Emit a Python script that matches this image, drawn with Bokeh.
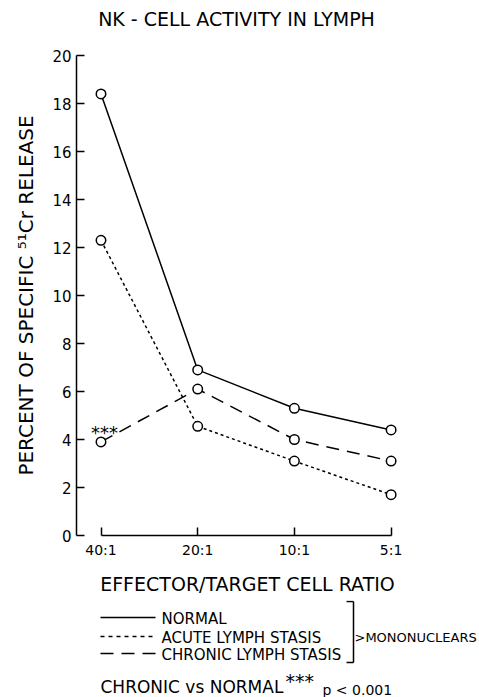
from math import pi
from bokeh.plotting import figure
from bokeh.layouts import column
from bokeh.models import Range1d, FixedTicker
from bokeh.core.properties import value
from bokeh.embed import file_html
from bokeh.resources import INLINE

# ---- data ----
ratios = ["40:1", "20:1", "10:1", "5:1"]
normal = [18.4, 6.9, 5.3, 4.4]
acute = [12.3, 4.55, 3.1, 1.7]
chronic = [3.9, 6.1, 4.0, 3.1]
y_ticks = [0, 2, 4, 6, 8, 10, 12, 14, 16, 18, 20]

FONT = "DejaVu Sans"
W = 479
H_HEAD, H_MAIN, H_FOOT = 48, 552, 97

# page geometry of the plotting frame
FL, FR, FT, FB = 76, 418, 55, 535
PX_PER_X = 96.7
X0 = (FL - 100.5) / PX_PER_X
X1 = (FR - 100.5) / PX_PER_X


def blank(h):
    f = figure(width=W, height=h, output_backend="svg", toolbar_location=None,
               x_range=Range1d(0, W), y_range=Range1d(h, 0),
               min_border=0, min_border_left=0, min_border_right=0,
               min_border_top=0, min_border_bottom=0, frame_align=False)
    f.axis.visible = False
    f.grid.visible = False
    f.outline_line_color = None
    f.background_fill_color = "white"
    f.border_fill_color = "white"
    return f


def txt(f, s, x, y, size, align="left", angle=0.0):
    f.text(x=[x], y=[y], text=[s], text_font=value(FONT),
           text_font_size=f"{size}px", text_align=align,
           text_baseline="middle", angle=angle, text_color="black")


def seg(f, x0, y0, x1, y1, dash="solid"):
    f.segment(x0=[x0], y0=[y0], x1=[x1], y1=[y1], line_color="black",
              line_width=1.5, line_dash=dash)


# ---- header ----
head = blank(H_HEAD)
txt(head, "NK - CELL ACTIVITY IN LYMPH", 236, 18, 19, "center")

# ---- main chart ----
p = figure(width=W, height=H_MAIN, output_backend="svg", toolbar_location=None,
           x_range=Range1d(X0, X1), y_range=Range1d(0, 20),
           min_border_left=FL, min_border_right=W - FR,
           min_border_top=FT - H_HEAD, min_border_bottom=H_HEAD + H_MAIN - FB,
           frame_align=False)
p.outline_line_color = None
p.xgrid.visible = False
p.ygrid.visible = False
p.background_fill_color = "white"
p.border_fill_color = "white"

xs = list(range(len(ratios)))

xa = p.xaxis[0]
xa.bounds = (0, len(ratios) - 1)
xa.ticker = FixedTicker(ticks=xs)
xa.major_label_overrides = {i: r for i, r in enumerate(ratios)}
xa.major_tick_in = 8
xa.major_tick_out = 0
xa.minor_tick_line_color = None
xa.axis_line_width = 1.5
xa.major_tick_line_width = 1.5
xa.major_label_text_font = FONT
xa.major_label_text_font_size = "14px"
xa.major_label_text_color = "black"
xa.major_label_standoff = 6
xa.axis_label = "EFFECTOR/TARGET CELL RATIO"
xa.axis_label_text_font = FONT
xa.axis_label_text_font_size = "19px"
xa.axis_label_text_font_style = "normal"
xa.axis_label_text_color = "black"
xa.axis_label_standoff = 12

ya = p.yaxis[0]
ya.bounds = (0, 20)
ya.ticker = FixedTicker(ticks=y_ticks)
ya.major_tick_in = 8
ya.major_tick_out = 0
ya.minor_tick_line_color = None
ya.axis_line_width = 1.5
ya.major_tick_line_width = 1.5
ya.major_label_text_font = FONT
ya.major_label_text_font_size = "15px"
ya.major_label_text_color = "black"
ya.major_label_standoff = 5
ya.axis_label = "PERCENT OF SPECIFIC \u2075\u00b9Cr RELEASE"
ya.axis_label_text_font = FONT
ya.axis_label_text_font_size = "20px"
ya.axis_label_text_font_style = "normal"
ya.axis_label_text_color = "black"
ya.axis_label_standoff = 11

for vals, dash in [(normal, "solid"), (acute, "3 3"), (chronic, "13 8")]:
    p.line(xs, vals, line_color="black", line_width=1.5, line_dash=dash)
for vals in [normal, acute, chronic]:
    p.scatter(xs, vals, marker="circle", size=9.5, fill_color="white",
              line_color="black", line_width=1.5)

# significance marker next to the chronic 40:1 point
p.text(x=[xs[0] + 0.035], y=[chronic[0]], text=["***"], text_font=value(FONT),
       text_font_size="18px", text_align="center", text_baseline="middle",
       y_offset=-9, text_color="black")

# ---- footer legend ----
foot = blank(H_FOOT)
o = 600  # page y of footer top
seg(foot, 100, 617 - o, 155, 617 - o)
seg(foot, 100, 636 - o, 155, 636 - o, "4 4")
seg(foot, 100, 653 - o, 155, 653 - o, "13 8")
txt(foot, "NORMAL", 161, 618 - o, 15)
txt(foot, "ACUTE LYMPH STASIS", 161, 637 - o, 15)
txt(foot, "CHRONIC LYMPH STASIS", 161, 654 - o, 15)
seg(foot, 353, 601 - o, 353, 662 - o)
seg(foot, 346, 601 - o, 353, 601 - o)
seg(foot, 346, 662 - o, 353, 662 - o)
txt(foot, ">MONONUCLEARS", 354, 637 - o, 13)
txt(foot, "CHRONIC vs NORMAL", 100, 686 - o, 17)
txt(foot, "***", 285, 680 - o, 19)
txt(foot, "p < 0.001", 322, 689 - o, 14)

layout = column(head, p, foot, spacing=0)
open("out.html", "w").write(file_html(layout, INLINE))
